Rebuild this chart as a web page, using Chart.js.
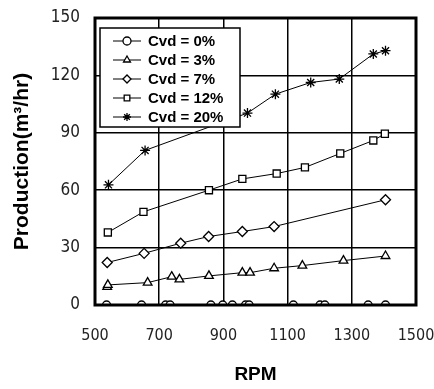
<!DOCTYPE html>
<html>
<head>
<meta charset="utf-8">
<script src="https://cdn.jsdelivr.net/npm/chart.js@4/dist/chart.umd.min.js"></script>
<style>
  body { margin: 0; background: #fff; }
  #wrap { width: 434px; height: 389px; }
</style>
</head>
<body>
<div id="wrap"><canvas id="grafico" width="434" height="389"></canvas></div>
<script>
// Datos (RPM, produccion)
const etiquetas = ["Cvd = 0%", "Cvd = 3%", "Cvd = 7%", "Cvd = 12%", "Cvd = 20%"];
const marcadores = ["circle", "triangle", "rectRot", "rect", "star"];

const rpm0 = [536, 645, 720, 734, 861, 898, 928, 969, 980, 1118, 1201, 1216, 1351, 1405];
const prod0 = [0, 0, 0, 0, 0, 0, 0, 0, 0, 0, 0, 0, 0, 0];

const rpm3 = [538, 540, 664, 739, 763, 855, 959, 983, 1058, 1146, 1274, 1405];
const prod3 = [9.5, 10.5, 11.7, 14.8, 13.4, 15.2, 16.9, 16.9, 19.2, 20.6, 23.2, 25.6];

const rpm7 = [538, 653, 767, 854, 959, 1058, 1405];
const prod7 = [22.2, 27, 32.3, 35.8, 38.4, 41, 55];

const rpm12 = [540, 651, 855, 959, 1066, 1154, 1264, 1367, 1403];
const prod12 = [37.9, 48.7, 60, 65.9, 68.7, 71.9, 79.2, 86, 89.5];

const rpm20 = [542, 656, 975, 1062, 1172, 1261, 1367, 1405];
const prod20 = [62.8, 80.8, 100.3, 110.2, 116.3, 118.1, 131.2, 132.9];

const ticksX = [500, 700, 900, 1100, 1300, 1500];
const ticksY = [0, 30, 60, 90, 120, 150];

function puntos(xs, ys) {
  return xs.map((x, i) => ({ x: x, y: ys[i] }));
}

const series = [puntos(rpm0, prod0), puntos(rpm3, prod3), puntos(rpm7, prod7), puntos(rpm12, prod12), puntos(rpm20, prod20)];

const datasets = series.map((d, i) => ({
  label: etiquetas[i],
  data: d,
  pointStyle: marcadores[i],
  borderColor: "#000",
  backgroundColor: "#fff",
  borderWidth: 1,
  pointBorderWidth: 1.3,
  pointRadius: marcadores[i] === "circle" ? 4 : 5,
  showLine: true,
  tension: 0
}));

// Marco grueso alrededor del area de trazado
const marco = {
  id: "marco",
  afterDraw(chart) {
    const { ctx, chartArea: a } = chart;
    ctx.save();
    ctx.strokeStyle = "#000";
    ctx.lineWidth = 3;
    ctx.strokeRect(a.left, a.top, a.right - a.left, a.bottom - a.top);
    ctx.restore();
  }
};

// Leyenda dentro del grafico
const leyenda = {
  id: "leyenda",
  afterDraw(chart) {
    const ctx = chart.ctx;
    const x0 = 100, y0 = 28, w = 140, h = 99;
    ctx.save();
    ctx.fillStyle = "#fff";
    ctx.fillRect(x0, y0, w, h);
    ctx.strokeStyle = "#000";
    ctx.lineWidth = 1.5;
    ctx.strokeRect(x0, y0, w, h);
    ctx.font = "bold 15px 'Liberation Sans', Arial, sans-serif";
    ctx.textBaseline = "middle";
    chart.data.datasets.forEach((ds, i) => {
      const yy = y0 + 13 + i * 19;
      ctx.strokeStyle = "#000";
      ctx.lineWidth = 1;
      ctx.beginPath();
      ctx.moveTo(x0 + 13, yy);
      ctx.lineTo(x0 + 41, yy);
      ctx.stroke();
      ctx.fillStyle = "#fff";
      ctx.lineWidth = 1.3;
      Chart.helpers.drawPoint(ctx, { pointStyle: ds.pointStyle, radius: 4, rotation: 0, borderWidth: 1.3 }, x0 + 27, yy);
      ctx.fillStyle = "#000";
      ctx.fillText(ds.label, x0 + 48, yy + 1);
    });
    ctx.restore();
  }
};

const familiaTicks = "'DejaVu Sans Condensed', 'Liberation Sans Narrow', 'Liberation Sans', sans-serif";

const ctx = document.getElementById("grafico").getContext("2d");
const chart = new Chart(ctx, {
  type: "scatter",
  data: { datasets: datasets },
  options: {
    responsive: false,
    animation: false,
    layout: { padding: { left: 0, right: 18, top: 18, bottom: 0 } },
    plugins: { legend: { display: false }, tooltip: { enabled: false } },
    scales: {
      x: {
        type: "linear",
        min: 500,
        max: 1500,
        afterBuildTicks: ax => { ax.ticks = ticksX.map(v => ({ value: v })); },
        afterFit: s => { s.height = 84; s.paddingLeft = 0; s.paddingRight = 0; },
        grid: { color: "#000", lineWidth: 1.5, drawTicks: false },
        border: { display: false },
        ticks: { color: "#222", padding: 21, maxRotation: 0, callback: v => String(v), font: { family: familiaTicks, size: 16 } },
        title: { display: true, text: "RPM", color: "#000", padding: { top: 0, bottom: 3 }, font: { family: "'Liberation Sans', Arial, sans-serif", size: 19, weight: "bold" } }
      },
      y: {
        min: 0,
        max: 150,
        afterBuildTicks: ax => { ax.ticks = ticksY.map(v => ({ value: v })); },
        afterFit: s => { s.width = 95; s.paddingTop = 0; s.paddingBottom = 0; },
        grid: { color: "#000", lineWidth: 1.5, drawTicks: false },
        border: { display: false },
        ticks: { color: "#222", padding: 15, callback: v => String(v), font: { family: familiaTicks, size: 17 } },
        title: { display: true, text: "Production(m³/hr)", color: "#000", padding: { top: 10, bottom: 0 }, font: { family: "'Liberation Sans', Arial, sans-serif", size: 21, weight: "bold" } }
      }
    }
  },
  plugins: [marco, leyenda]
});
</script>
</body>
</html>
